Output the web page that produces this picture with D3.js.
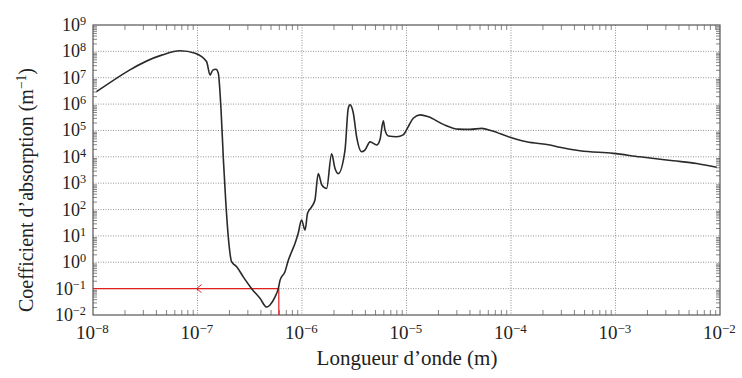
<!DOCTYPE html>
<html>
<head>
<meta charset="utf-8">
<script src="https://cdn.jsdelivr.net/npm/d3@7"></script>
<style>
  body { margin: 0; background: #fff; }
  text { font-family: "Liberation Serif", "DejaVu Serif", serif; fill: #222; }
</style>
</head>
<body>
<div id="chart"></div>
<script>
// wavelength (m) and absorption coefficient (m^-1)
var wavelength = [1.08e-8, 4.54e-8, 6.8e-8, 9.5e-8, 1.22e-7, 1.32e-7, 1.40e-7, 1.50e-7, 1.58e-7,
    1.68e-7, 1.77e-7, 1.86e-7, 1.97e-7, 2.12e-7, 2.37e-7, 2.74e-7, 3.30e-7, 3.96e-7, 4.59e-7,
    4.94e-7, 5.52e-7, 5.93e-7, 6.17e-7, 6.87e-7, 7.40e-7, 7.96e-7, 8.57e-7, 9.2e-7, 9.9e-7,
    1.07e-6, 1.13e-6, 1.24e-6, 1.33e-6, 1.43e-6, 1.55e-6, 1.72e-6, 1.92e-6, 2.07e-6, 2.22e-6,
    2.58e-6, 2.77e-6, 2.88e-6, 3.10e-6, 3.33e-6, 3.72e-6, 4.0e-6, 4.48e-6, 5.19e-6, 5.57e-6,
    6.0e-6, 6.22e-6, 6.70e-6, 8.05e-6, 9.3e-6, 1.04e-5, 1.16e-5, 1.35e-5, 1.62e-5, 2.25e-5,
    3.13e-5, 4.06e-5, 5.25e-5, 6.53e-5, 9.8e-5, 1.41e-4, 2.36e-4, 2.94e-4, 4.57e-4, 9.5e-4,
    1.71e-3, 3.57e-3, 5.98e-3, 9.3e-3];
var absorption = [2.95e6, 7.2e7, 1.06e8, 8.5e7, 4.1e7, 1.26e7, 1.95e7, 2.1e7, 1.5e7,
    6.0e5, 7.6e3, 230, 9.3, 1.05, 0.68, 0.28, 0.10, 0.043, 0.020,
    0.024, 0.049, 0.10, 0.21, 0.44, 1.2, 2.5, 5.2, 12.6, 40,
    16.6, 72, 129, 230, 2.3e3, 850, 630, 1.3e4, 3.6e3, 2.3e3,
    1.8e4, 6.9e5, 9.3e5, 4.5e5, 5.8e4, 1.55e4, 1.8e4, 3.7e4, 2.8e4, 4.4e4,
    2.3e5, 1.05e5, 6.2e4, 5.8e4, 6.8e4, 1.4e5, 2.9e5, 3.9e5, 3.3e5, 1.7e5,
    1.12e5, 1.1e5, 1.2e5, 9.8e4, 5.5e4, 3.7e4, 2.8e4, 2.3e4, 1.7e4, 1.35e4,
    1.0e4, 7.1e3, 5.6e3, 4.0e3];

var xTickExps = [-8, -7, -6, -5, -4, -3, -2];
var yTickExps = [-2, -1, 0, 1, 2, 3, 4, 5, 6, 7, 8, 9];

// red guide lines
var markWavelength = 6e-7;
var markAbsorption = 0.1;

var svgWidth = 742;
var svgHeight = 378;
var margin = { top: 25, right: 22, bottom: 63, left: 93 };
var width = svgWidth - margin.left - margin.right;
var height = svgHeight - margin.top - margin.bottom;

var svg = d3.select("#chart")
    .append("svg")
    .attr("width", svgWidth)
    .attr("height", svgHeight);

var chartGroup = svg.append("g")
    .attr("transform", `translate(${margin.left}, ${margin.top})`);

var x = d3.scaleLog().domain([1e-8, 1e-2]).range([0, width]);
var y = d3.scaleLog().domain([1e-2, 1e9]).range([height, 0]);

// minor tick values 2..9 of each decade
var xMinor = [];
xTickExps.slice(0, -1).forEach(function(e) {
    for (var k = 2; k <= 9; k++) xMinor.push(k * Math.pow(10, e));
});
var yMinor = [];
yTickExps.slice(0, -1).forEach(function(e) {
    for (var k = 2; k <= 9; k++) yMinor.push(k * Math.pow(10, e));
});

// grid
chartGroup.selectAll(".vgrid")
    .data(xTickExps.slice(1, -1))
    .enter()
    .append("line")
    .attr("x1", d => x(Math.pow(10, d)))
    .attr("x2", d => x(Math.pow(10, d)))
    .attr("y1", 0)
    .attr("y2", height)
    .attr("stroke", "#888")
    .attr("stroke-width", 0.9)
    .attr("stroke-dasharray", "1,1.5");

chartGroup.selectAll(".hgrid")
    .data(yTickExps.slice(1, -1))
    .enter()
    .append("line")
    .attr("y1", d => y(Math.pow(10, d)))
    .attr("y2", d => y(Math.pow(10, d)))
    .attr("x1", 0)
    .attr("x2", width)
    .attr("stroke", "#888")
    .attr("stroke-width", 0.9)
    .attr("stroke-dasharray", "1,1.5");

// inward ticks on all four sides
function tickAxis(axis, values, size) {
    return axis.tickValues(values).tickSize(size).tickFormat("");
}
var sides = [
    { ax: d3.axisBottom(x), t: `translate(0, ${height})`, v: xMinor, s: -5 },
    { ax: d3.axisTop(x), t: "translate(0, 0)", v: xMinor, s: -5 },
    { ax: d3.axisLeft(y), t: "translate(0, 0)", v: yMinor, s: -4 },
    { ax: d3.axisRight(y), t: `translate(${width}, 0)`, v: yMinor, s: -4 }
];
sides.forEach(function(sd) {
    var g = chartGroup.append("g")
        .attr("transform", sd.t)
        .call(tickAxis(sd.ax, sd.v, sd.s));
    g.select(".domain").remove();
    g.selectAll("line").attr("stroke", "#666").attr("stroke-width", 0.8);
});

// frame
chartGroup.append("rect")
    .attr("x", 0)
    .attr("y", 0)
    .attr("width", width)
    .attr("height", height)
    .attr("fill", "none")
    .attr("stroke", "#555")
    .attr("stroke-width", 1.2);

// red guide lines
chartGroup.append("path")
    .attr("d", `M0,${y(markAbsorption)}H${x(markWavelength)}V${height}`)
    .attr("fill", "none")
    .attr("stroke", "#e02020")
    .attr("stroke-width", 1.2);

var ax = x(1e-7) - 1;
var ay = y(markAbsorption);
chartGroup.append("path")
    .attr("d", `M${ax + 5},${ay - 4}L${ax},${ay}L${ax + 5},${ay + 4}`)
    .attr("fill", "none")
    .attr("stroke", "#e02020")
    .attr("stroke-width", 1);

// the curve
var points = wavelength.map(function(w, i) { return [w, absorption[i]]; });
var line = d3.line()
    .x(d => x(d[0]))
    .y(d => y(d[1]))
    .curve(d3.curveMonotoneX);

chartGroup.append("path")
    .datum(points)
    .attr("d", line)
    .attr("fill", "none")
    .attr("stroke", "#2a2a2a")
    .attr("stroke-width", 1.6)
    .attr("stroke-linejoin", "round");

// tick labels
function powerLabel(sel, e) {
    sel.append("tspan").text("10");
    sel.append("tspan")
        .attr("dy", "-0.5em")
        .attr("font-size", "0.68em")
        .text(String(e).replace("-", "\u2212"));
}

chartGroup.selectAll(".xlabel")
    .data(xTickExps)
    .enter()
    .append("text")
    .attr("x", d => x(Math.pow(10, d)) - 17)
    .attr("y", height + 24)
    .attr("font-size", "19px")
    .each(function(d) { powerLabel(d3.select(this), d); });

chartGroup.selectAll(".ylabel")
    .data(yTickExps)
    .enter()
    .append("text")
    .attr("x", -7)
    .attr("y", d => y(Math.pow(10, d)) + 6)
    .attr("text-anchor", "end")
    .attr("font-size", "18px")
    .each(function(d) { powerLabel(d3.select(this), d); });

// axis titles
svg.append("text")
    .attr("x", 407)
    .attr("y", 365)
    .attr("text-anchor", "middle")
    .attr("font-size", "21px")
    .text("Longueur d\u2019onde (m)");

var yTitle = svg.append("text")
    .attr("transform", `translate(33, ${margin.top + height / 2 + 20}) rotate(-90)`)
    .attr("text-anchor", "middle")
    .attr("font-size", "20px");
yTitle.append("tspan").text("Coefficient d\u2019absorption (m");
yTitle.append("tspan").attr("dy", "-0.5em").attr("font-size", "0.68em").text("\u22121");
yTitle.append("tspan").attr("dy", "0.34em").text(")");
</script>
</body>
</html>
